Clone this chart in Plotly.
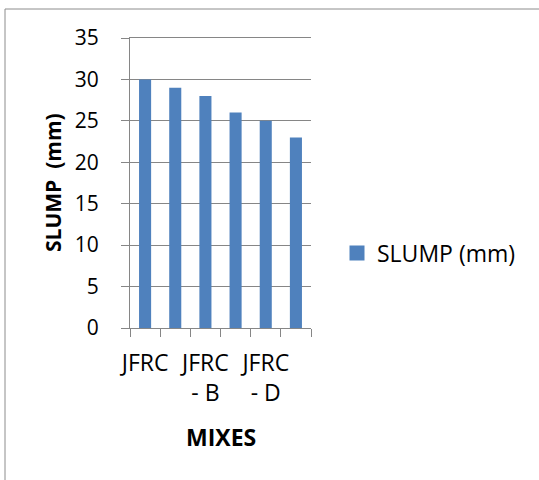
import plotly.graph_objects as go

categories = ["JFRC", "JFRC - A", "JFRC - B", "JFRC - C", "JFRC - D", "JFRC - E"]
slump = [30, 29, 28, 26, 25, 23]
tick_labels = ["JFRC", "", "JFRC<br>- B", "", "JFRC<br>- D", ""]
y_ticks = [0, 5, 10, 15, 20, 25, 30, 35]
series_name = "SLUMP (mm)"
x_title = "MIXES"
y_title = "SLUMP  (mm)"

FONT = "Open Sans"
GRID = "#868686"
BLUE = "#4F81BD"

fig = go.Figure()
fig.add_trace(go.Bar(
    x=categories, y=slump, name=series_name,
    marker=dict(color=BLUE, line=dict(width=0)),
    showlegend=False,
))
# legend entry with a larger square swatch
fig.add_trace(go.Scatter(
    x=[None], y=[None], mode="markers", name=series_name,
    marker=dict(symbol="square", size=15, color=BLUE),
    showlegend=True,
))

W, H = 539, 480
L, R, T, B = 130, 228, 38, 152
pw = W - L - R
ph = H - T - B

def px_x(x):
    return (x - L) / pw

def px_y(y):
    return (H - B - y) / ph

fig.update_layout(
    width=W, height=H,
    margin=dict(l=L, r=R, t=T, b=B, pad=0),
    paper_bgcolor="white", plot_bgcolor="white",
    font=dict(family=FONT, size=21, color="black"),
    bargap=0.6,
    showlegend=True,
    legend=dict(
        x=px_x(337), y=px_y(253), xanchor="left", yanchor="middle",
        font=dict(family=FONT, size=23, color="black"),
        itemwidth=30, bgcolor="rgba(0,0,0,0)",
    ),
    xaxis=dict(
        type="category",
        tickmode="array", tickvals=categories, ticktext=tick_labels,
        tickson="boundaries", ticks="outside", ticklen=8, tickcolor=GRID,
        showline=True, linecolor=GRID, linewidth=1, mirror=True,
        showgrid=False,
        tickangle=0,
        ticklabelstandoff=14,
        tickfont=dict(family=FONT, size=23),
    ),
    yaxis=dict(
        range=[0, 35], tickvals=y_ticks,
        ticks="outside", ticklen=8, tickcolor=GRID,
        showline=True, linecolor=GRID, linewidth=1,
        showgrid=True, gridcolor=GRID, gridwidth=1,
        zeroline=False,
        ticklabelstandoff=18,
        tickfont=dict(family=FONT, size=21),
    ),
    annotations=[
        dict(text="<b>" + x_title + "</b>", xref="paper", yref="paper",
             x=0.5, y=px_y(437), xanchor="center", yanchor="middle",
             showarrow=False, font=dict(family=FONT, size=23)),
        dict(text="<b>" + y_title + "</b>", xref="paper", yref="paper",
             x=px_x(53), y=0.5, xanchor="center", yanchor="middle",
             textangle=-90, showarrow=False, font=dict(family=FONT, size=21)),
    ],
    shapes=[dict(
        type="rect", xref="paper", yref="paper",
        x0=px_x(5), x1=px_x(545),
        y0=px_y(485), y1=px_y(9),
        line=dict(color="#8c8c8c", width=1), fillcolor="rgba(0,0,0,0)",
        layer="below",
    )],
)

fig.write_html("out.html")
